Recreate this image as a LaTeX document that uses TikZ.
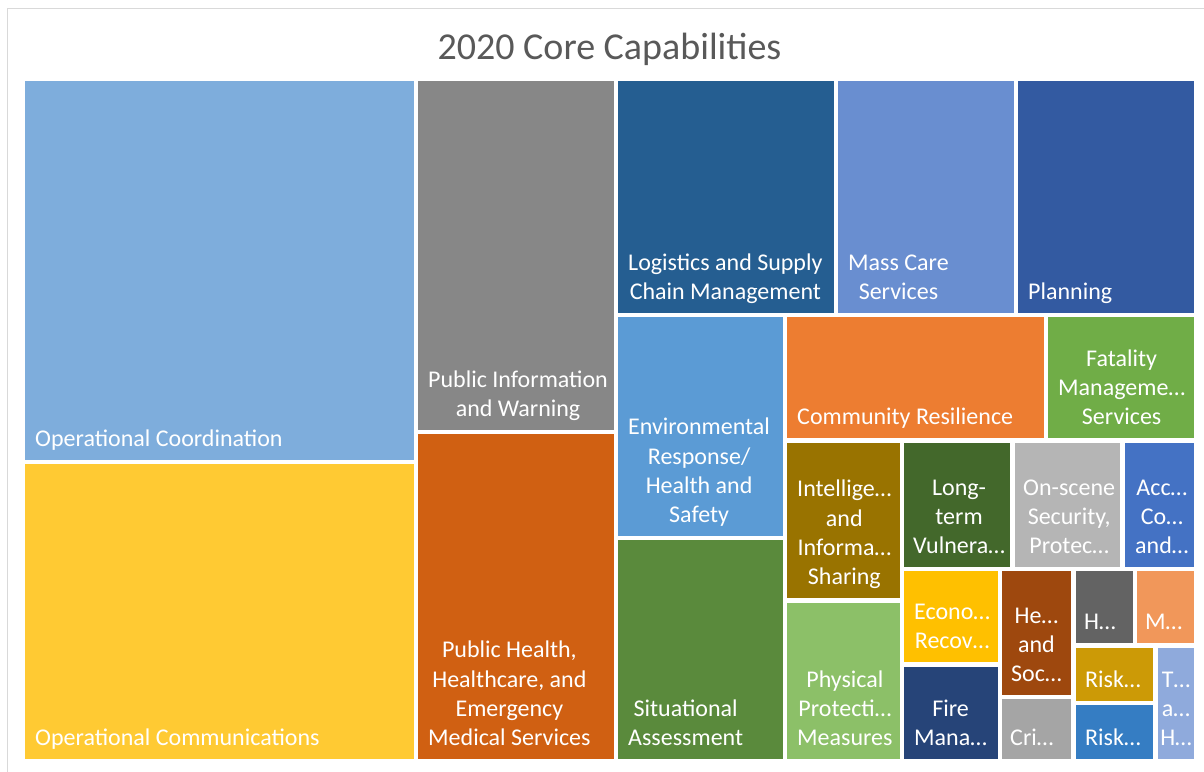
\documentclass[tikz,border=0pt]{standalone}
\usepackage{fontspec}
\setmainfont{Carlito}
\definecolor{cOpCoord}{HTML}{7EADDC}
\definecolor{cOpComm}{HTML}{FFCA33}
\definecolor{cPubInfo}{HTML}{878787}
\definecolor{cPubHealth}{HTML}{D06012}
\definecolor{cLogist}{HTML}{255E91}
\definecolor{cMassCare}{HTML}{698ED0}
\definecolor{cPlanning}{HTML}{335AA1}
\definecolor{cEnvResp}{HTML}{5B9BD5}
\definecolor{cSitAss}{HTML}{5A8A3C}
\definecolor{cCommRes}{HTML}{ED7D31}
\definecolor{cFatal}{HTML}{70AD47}
\definecolor{cIntel}{HTML}{997300}
\definecolor{cPhysProt}{HTML}{8CC068}
\definecolor{cLongTerm}{HTML}{43682B}
\definecolor{cOnScene}{HTML}{B5B5B5}
\definecolor{cAccess}{HTML}{4472C4}
\definecolor{cEcon}{HTML}{FFC000}
\definecolor{cFire}{HTML}{264478}
\definecolor{cHealthSoc}{HTML}{9E480E}
\definecolor{cCrit}{HTML}{A5A5A5}
\definecolor{cHousing}{HTML}{636363}
\definecolor{cMassSearch}{HTML}{F1975A}
\definecolor{cRiskGold}{HTML}{CC9A06}
\definecolor{cRiskBlue}{HTML}{357DC3}
\definecolor{cThira}{HTML}{8FAADC}
\definecolor{cTitle}{HTML}{595959}
\definecolor{cFrame}{HTML}{D9D9D9}
\tikzset{
  lbl/.style={text=white, inner sep=0pt, align=center,
    font=\fontsize{24}{29.3}\selectfont, execute at end node=\strut},
  lblleft/.style={lbl, anchor=south west},
  lblmid/.style={lbl, anchor=south},
  titletext/.style={text=cTitle, inner sep=0pt, anchor=base,
    font=\fontsize{38}{46}\selectfont},
  frameline/.style={draw=cFrame, line width=1pt}
}
% [left padding] name, x1, y1, x2, y2, colour, text ; label block at bottom left
\newcommand{\tmleft}[8][10]{%
  \fill[#7] (#3,#4) rectangle (#5,#6);
  \node[lblleft] (#2) at ({#3+#1},{#6-4.4}) {#8};}
% box with centred label (text wider than the box)
\newcommand{\tmmid}[7]{%
  \fill[#6] (#2,#3) rectangle (#4,#5);
  \node[lblmid] (#1) at ({(#2+#4)/2},{#5-4.4}) {#7};}
\begin{document}
\begin{tikzpicture}[x=1pt,y=-1pt]
\useasboundingbox (0,0) rectangle (1204,771);
\fill[white] (0,0) rectangle (1204,771);
\draw[frameline] (7.5,800) -- (7.5,8.5) -- (1300,8.5);
\node[titletext] (title) at (609.5,59) {2020 Core Capabilities};

\tmleft{opcoord}{25}{81}{414}{460}{cOpCoord}{Operational Coordination}
\tmleft{opcomm}{25}{464}{414}{759}{cOpComm}{Operational Communications}
\tmleft{pubinfo}{418}{81}{614}{430}{cPubInfo}{Public Information\\and Warning}
\tmleft{pubhealth}{418}{434}{614}{759}{cPubHealth}{Public Health,\\Healthcare, and\\Emergency\\Medical Services}
\tmleft{logist}{618}{81}{834}{313}{cLogist}{Logistics and Supply\\Chain Management}
\tmleft{masscare}{838}{81}{1014}{313}{cMassCare}{Mass Care\\Services}
\tmleft{planning}{1018}{81}{1194}{313}{cPlanning}{Planning}
\tmleft{envresp}{618}{317}{783}{536}{cEnvResp}{Environmental\\Response/\\Health and\\Safety}
\tmleft{sitass}{618}{540}{783}{759}{cSitAss}{Situational\\Assessment}
\tmleft{commres}{787}{317}{1044}{438}{cCommRes}{Community Resilience}
\tmleft{fatal}{1048}{317}{1194}{438}{cFatal}{Fatality\\Manageme…\\Services}
\tmleft{intel}{787}{443}{900}{598}{cIntel}{Intellige…\\and\\Informa…\\Sharing}
\tmleft{physprot}{787}{603}{900}{759}{cPhysProt}{Physical\\Protecti…\\Measures}
\tmleft[9]{longterm}{904}{443}{1010}{567}{cLongTerm}{Long-\\term\\Vulnera…}
\tmleft[8]{onscene}{1015}{443}{1120}{567}{cOnScene}{On-scene\\Security,\\Protec…}
\tmleft{access}{1125}{443}{1194}{567}{cAccess}{Acc…\\Co…\\and…}
\tmleft{econ}{904}{571}{998}{662}{cEcon}{Econo…\\Recov…}
\tmleft{fire}{904}{667}{998}{759}{cFire}{Fire\\Mana…}
\tmleft[9]{healthsoc}{1002}{571}{1071}{695}{cHealthSoc}{He…\\and\\Soc…}
\tmleft[8]{crit}{1002}{699}{1071}{759}{cCrit}{Cri…}
\tmleft[8]{housing}{1076}{571}{1133}{643}{cHousing}{H…}
\tmleft[8]{masssearch}{1137}{571}{1194}{643}{cMassSearch}{M…}
\tmleft[9]{riskgold}{1076}{648}{1153}{701}{cRiskGold}{Risk…}
\tmleft[9]{riskblue}{1076}{705}{1153}{759}{cRiskBlue}{Risk…}
\tmmid{thira}{1158}{648}{1194}{759}{cThira}{T…\\a…\\H…}
\end{tikzpicture}
\end{document}
